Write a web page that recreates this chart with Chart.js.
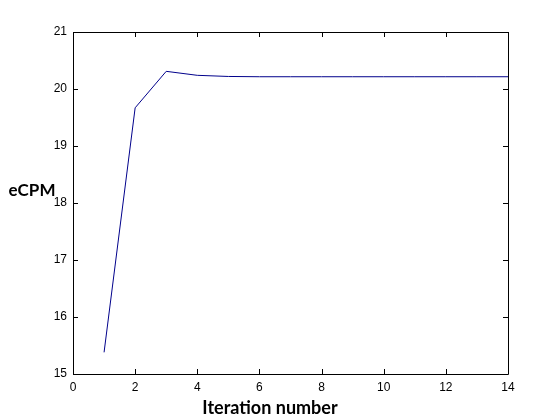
<!DOCTYPE html>
<html>
<head>
<meta charset="utf-8">
<script src="https://cdn.jsdelivr.net/npm/chart.js@4"></script>
<style>
	html, body { margin: 0; padding: 0; background: #fff; }
	#wrap { width: 560px; height: 420px; }
</style>
</head>
<body>
<div id="wrap"><canvas id="myLineChart" width="560" height="420"></canvas></div>
<script>
const iterations = [1, 2, 3, 4, 5, 6, 7, 8, 9, 10, 11, 12, 13, 14];
const ecpm = [15.38, 19.67, 20.31, 20.24, 20.22, 20.215, 20.215, 20.215, 20.215, 20.215, 20.215, 20.215, 20.215, 20.215];
const xTicks = [0, 2, 4, 6, 8, 10, 12, 14];
const yTicks = [15, 16, 17, 18, 19, 20, 21];

const points = iterations.map((it, i) => ({ x: it, y: ecpm[i] }));

// matlab style box with inward ticks, plus the axis titles
const boxPlugin = {
	id: 'box',
	afterDraw(chart) {
		const ctx = chart.ctx;
		const a = chart.chartArea;
		const xs = chart.scales.x;
		const ys = chart.scales.y;
		ctx.save();
		ctx.strokeStyle = '#000';
		ctx.lineWidth = 1;
		ctx.beginPath();
		ctx.rect(Math.round(a.left) + 0.5, Math.round(a.top) + 0.5,
			Math.round(a.right - a.left), Math.round(a.bottom - a.top));
		xTicks.forEach(v => {
			const px = Math.round(xs.getPixelForValue(v)) + 0.5;
			ctx.moveTo(px, a.bottom);
			ctx.lineTo(px, a.bottom - 5);
			ctx.moveTo(px, a.top);
			ctx.lineTo(px, a.top + 5);
		});
		yTicks.forEach(v => {
			const py = Math.round(ys.getPixelForValue(v)) + 0.5;
			ctx.moveTo(a.left, py);
			ctx.lineTo(a.left + 5, py);
			ctx.moveTo(a.right, py);
			ctx.lineTo(a.right - 5, py);
		});
		ctx.stroke();

		ctx.fillStyle = '#000';
		ctx.textAlign = 'center';
		ctx.textBaseline = 'alphabetic';
		ctx.font = 'bold 17px Lato, "Open Sans", sans-serif';
		ctx.fillText('eCPM', 32, 196);
		ctx.font = 'bold 18px Lato, "Open Sans", sans-serif';
		ctx.fillText('Iteration number', 270, 414);
		ctx.restore();
	}
};

const lineConfig = {
	type: 'line',
	data: {
		datasets: [{
			label: 'eCPM',
			data: points,
			borderColor: '#00008b',
			borderWidth: 1,
			pointRadius: 0,
			tension: 0,
			fill: false,
		}]
	},
	options: {
		responsive: false,
		animation: false,
		layout: { padding: { top: 32, right: 52, left: 0, bottom: 0 } },
		plugins: {
			legend: { display: false },
			tooltip: { enabled: false },
		},
		scales: {
			x: {
				type: 'linear',
				min: 0,
				max: 14,
				afterBuildTicks: s => { s.ticks = xTicks.map(v => ({ value: v })); },
				afterFit: s => { s.height = 46; },
				grid: { display: false, drawTicks: false },
				border: { display: false },
				ticks: {
					color: '#000',
					padding: 6,
					font: { family: '"Liberation Sans", Arial, sans-serif', size: 12 },
				},
			},
			y: {
				min: 15,
				max: 21,
				afterBuildTicks: s => { s.ticks = yTicks.map(v => ({ value: v })); },
				afterFit: s => { s.width = 73; },
				grid: { display: false, drawTicks: false },
				border: { display: false },
				ticks: {
					color: '#000',
					padding: 6,
					font: { family: '"Liberation Sans", Arial, sans-serif', size: 12 },
				},
			},
		},
	},
	plugins: [boxPlugin],
};

const myLineChart = new Chart(
	document.getElementById('myLineChart'),
	lineConfig
);
</script>
</body>
</html>
